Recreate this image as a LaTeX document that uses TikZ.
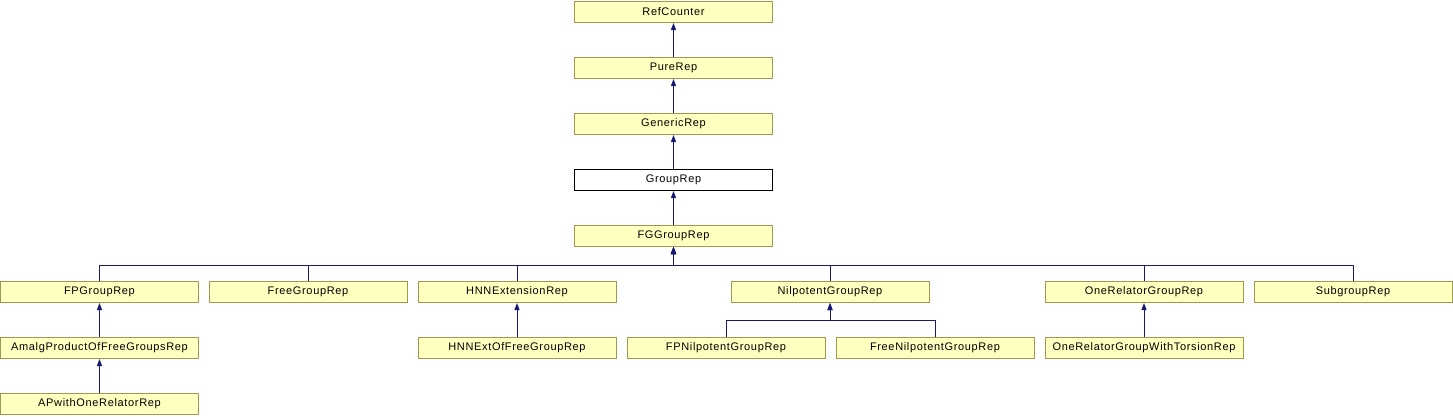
\documentclass[tikz,border=0pt]{standalone}
\usepackage{fontspec}
\setmainfont{Liberation Sans}[LetterSpace=6]
\usepackage{tikz}
\usetikzlibrary{arrows.meta}

\definecolor{clsfill}{HTML}{FFFFC0}
\definecolor{clsdraw}{HTML}{9A9A50}
\definecolor{edgeblue}{HTML}{191970}

\begin{document}
\begin{tikzpicture}[x=1pt, y=-1pt,
    cls/.style={rectangle, draw=clsdraw, fill=clsfill, line width=1pt,
      minimum width=198pt, minimum height=21pt, inner sep=0pt,
      font=\fontsize{11}{12}\selectfont},
    current/.style={cls, draw=black, fill=white},
    inherit/.style={draw=edgeblue, line width=1pt,
      -{Triangle[width=5pt, length=7pt]}}]

      \useasboundingbox (0,0) rectangle (1453,416);

      % Main chain
      \node[cls] (ref) at (673.5, 12) {RefCounter};
      \node[cls] (pure) at (673.5, 68) {PureRep};
      \node[cls] (gen) at (673.5, 124) {GenericRep};
      \node[current] (grp) at (673.5, 180) {GroupRep};
      \node[cls] (fg) at (673.5, 236) {FGGroupRep};

      \draw[inherit] (pure) -- (ref);
      \draw[inherit] (gen) -- (pure);
      \draw[inherit] (grp) -- (gen);
      \draw[inherit] (fg) -- (grp);

      % Second row
      \node[cls] (fp) at (99.5, 292) {FPGroupRep};
      \node[cls] (free) at (308, 292) {FreeGroupRep};
      \node[cls] (hnn) at (517, 292) {HNNExtensionRep};
      \node[cls] (nil) at (830, 292) {NilpotentGroupRep};
      \node[cls] (orel) at (1144, 292) {OneRelatorGroupRep};
      \node[cls] (sub) at (1353, 292) {SubgroupRep};

      % Bus from FGGroupRep down to each child
      \foreach \c in {fp,free,hnn,nil,orel,sub} {
        \draw[inherit] (\c.north) -- ++(0,-16) -| (fg.south);
      }

      % Third row
      \node[cls] (amalg) at (99.5, 348) {AmalgProductOfFreeGroupsRep};
      \node[cls] (hnnfree) at (517, 348) {HNNExtOfFreeGroupRep};
      \node[cls] (fpnil) at (726, 348) {FPNilpotentGroupRep};
      \node[cls] (freenil) at (935, 348) {FreeNilpotentGroupRep};
      \node[cls] (oreltor) at (1144, 348) {OneRelatorGroupWithTorsionRep};

      \draw[inherit] (amalg) -- (fp);
      \draw[inherit] (hnnfree) -- (hnn);
      \foreach \c in {fpnil,freenil} {
        \draw[inherit] (\c.north) -- ++(0,-17) -| (nil.south);
      }
      \draw[inherit] (oreltor) -- (orel);

      % Fourth row
      \node[cls] (apone) at (99.5, 404) {APwithOneRelatorRep};
      \draw[inherit] (apone) -- (amalg);

    \end{tikzpicture}
\end{document}
